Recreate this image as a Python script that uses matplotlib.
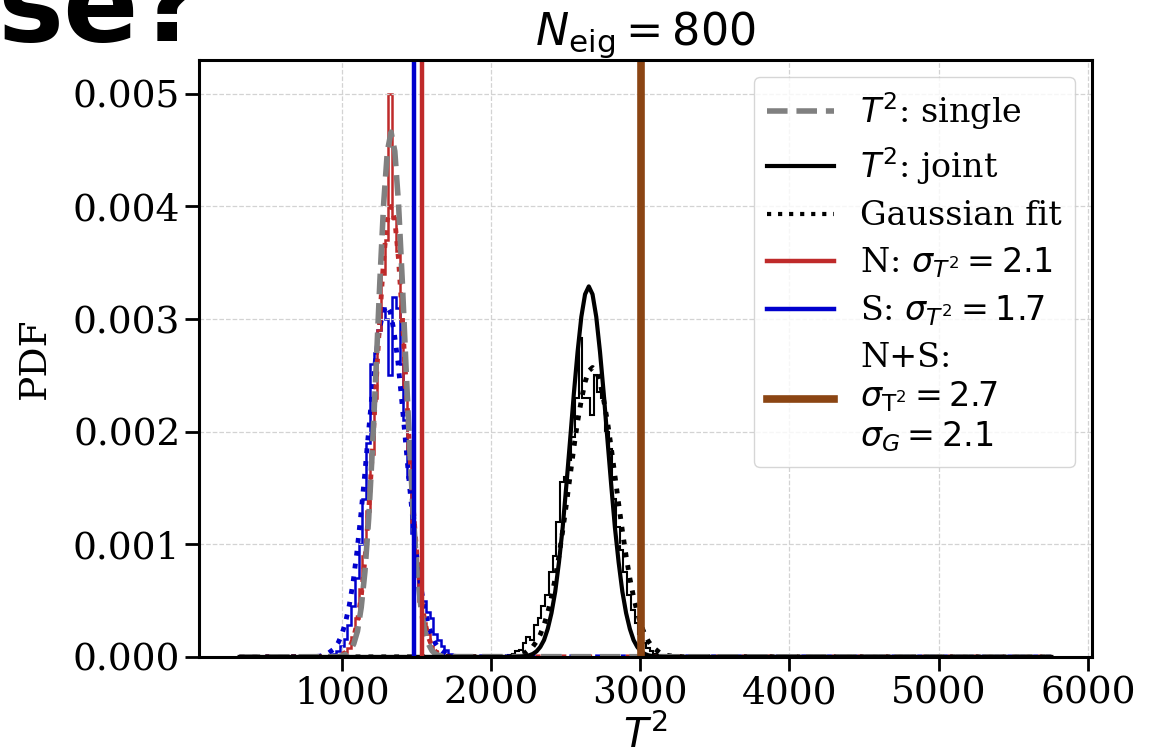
## T^2 distributions for N_eig = 800: single vs joint, with Gaussian fits
import numpy as np
import matplotlib
matplotlib.use("Agg")
import matplotlib.pyplot as plt
from matplotlib.lines import Line2D

plt.rcParams['font.family'] = ['DejaVu Serif']
plt.rcParams['mathtext.fontset'] = 'dejavusans'

# histograms (PDF per bin of width 25)
bin_width = 25
s_hist_start = 912.5
s_hist = [0.00002, 0.00003, 0.00005, 0.0001, 0.00016, 0.00028, 0.00045, 0.0007, 0.0010, 0.0014,
          0.0019, 0.0026, 0.0027, 0.0029, 0.0031, 0.0030, 0.0025, 0.0032, 0.0031, 0.0026,
          0.0021, 0.0016, 0.0011, 0.0008, 0.0006, 0.0005, 0.0004, 0.00035, 0.0002, 0.00015,
          0.0001, 0.00006, 0.00003, 0.00002, 0.00001]
n_hist_start = 987.5
n_hist = [0.00001, 0.00004, 0.00008, 0.00018, 0.00035, 0.0006, 0.0009, 0.0013, 0.0018, 0.0023,
          0.0029, 0.0034, 0.0037, 0.0050, 0.0039, 0.0036, 0.0030, 0.0024, 0.0018, 0.0012,
          0.0008, 0.0005, 0.0003, 0.0002, 0.0001, 0.00005, 0.00002]
joint_hist_start = 2087.5
joint_hist = [0.00001, 0.00002, 0.00003, 0.00005, 0.00006, 0.00012, 0.00018, 0.00015, 0.00028, 0.00035,
              0.00045, 0.00055, 0.00075, 0.0009, 0.0012, 0.00155, 0.0016, 0.00175, 0.00195, 0.0023,
              0.00283, 0.0023, 0.0023, 0.00215, 0.0025, 0.00235, 0.0023, 0.0020, 0.00185, 0.0014,
              0.00115, 0.00095, 0.00075, 0.00055, 0.00042, 0.0003, 0.0002, 0.00012, 0.00008, 0.00005,
              0.00003, 0.00002, 0.00002, 0.00001, 0.00001]

# Gaussian fits
s_fit_x = [315, 800, 850, 900, 950, 975, 1000, 1025, 1050, 1075, 1100, 1125, 1150, 1175, 1200, 1225,
           1250, 1275, 1300, 1325, 1350, 1375, 1400, 1425, 1450, 1475, 1500, 1525, 1550, 1575, 1600,
           1625, 1650, 1700, 1750, 1800, 5755]
s_fit_y = [0, 0.0000015, 0.0000066, 0.000024, 0.000074, 0.000125, 0.0002, 0.00031, 0.00046, 0.00066,
           0.00092, 0.00123, 0.00157, 0.00194, 0.0023, 0.00263, 0.00289, 0.00306, 0.00312, 0.00306,
           0.00289, 0.00263, 0.0023, 0.00194, 0.00157, 0.00123, 0.00092, 0.00066, 0.00046, 0.00031,
           0.0002, 0.000125, 0.000074, 0.000024, 0.0000066, 0.0000015, 0]
n_fit_x = [315, 930, 980, 1030, 1055, 1080, 1105, 1130, 1155, 1180, 1205, 1230, 1255, 1280, 1305, 1330,
           1355, 1380, 1405, 1430, 1455, 1480, 1505, 1530, 1555, 1580, 1605, 1630, 1680, 1730, 5755]
n_fit_y = [0, 0.0000014, 0.0000088, 0.000044, 0.000091, 0.000176, 0.00032, 0.00054, 0.00087, 0.0013,
           0.00183, 0.00243, 0.00302, 0.00353, 0.00388, 0.0040, 0.00388, 0.00353, 0.00302, 0.00243,
           0.00183, 0.0013, 0.00087, 0.00054, 0.00032, 0.000176, 0.000091, 0.000044, 0.0000088,
           0.0000014, 0]
joint_fit_x = [315, 2080, 2130, 2180, 2230, 2280, 2305, 2330, 2355, 2380, 2405, 2430, 2455, 2480, 2505,
               2530, 2555, 2580, 2605, 2630, 2655, 2680, 2705, 2730, 2755, 2780, 2805, 2830, 2855, 2880,
               2905, 2930, 2955, 2980, 3005, 3030, 3055, 3080, 3130, 3180, 3230, 3280, 5755]
joint_fit_y = [0, 0.0000014, 0.0000048, 0.000014, 0.000038, 0.000092, 0.000138, 0.0002, 0.000285,
               0.000395, 0.000532, 0.000699, 0.000896, 0.00112, 0.00136, 0.00161, 0.00186, 0.00209,
               0.00228, 0.00244, 0.00254, 0.00257, 0.00254, 0.00244, 0.00228, 0.00209, 0.00186, 0.00161,
               0.00136, 0.00112, 0.000896, 0.000699, 0.000532, 0.000395, 0.000285, 0.0002, 0.000138,
               0.000092, 0.000038, 0.000014, 0.0000048, 0.0000014, 0]

# theory curves: single and joint T^2
single_x = [315, 980, 1030, 1055, 1080, 1105, 1130, 1155, 1180, 1205, 1230, 1255, 1280, 1305, 1330,
            1355, 1380, 1405, 1430, 1455, 1480, 1505, 1530, 1555, 1580, 1605, 1630, 1680, 5755]
single_y = [0, 0.0000034, 0.000023, 0.000054, 0.000117, 0.00023, 0.00044, 0.00076, 0.00123, 0.00185,
            0.00258, 0.00334, 0.00402, 0.00449, 0.00466, 0.00449, 0.00402, 0.00334, 0.00258, 0.00185,
            0.00123, 0.00076, 0.00044, 0.00023, 0.000117, 0.000054, 0.000023, 0.0000034, 0]
joint_x = [315, 2155, 2205, 2255, 2280, 2305, 2330, 2355, 2380, 2405, 2430, 2455, 2480, 2505, 2530,
           2555, 2580, 2605, 2630, 2655, 2680, 2705, 2730, 2755, 2780, 2805, 2830, 2855, 2880, 2905,
           2930, 2955, 2980, 3005, 3030, 3055, 3105, 3155, 5755]
joint_y = [0, 0.0000007, 0.0000033, 0.000014, 0.000027, 0.00005, 0.000089, 0.00015, 0.00025, 0.00039,
           0.00058, 0.00084, 0.00115, 0.00153, 0.00193, 0.00234, 0.00271, 0.00302, 0.00322, 0.00329,
           0.00322, 0.00302, 0.00271, 0.00234, 0.00193, 0.00153, 0.00115, 0.00084, 0.00058, 0.00039,
           0.00025, 0.00015, 0.000089, 0.00005, 0.000027, 0.000014, 0.0000033, 0.0000007, 0]

# observed T^2 values
t2_obs_N = 1535
t2_obs_S = 1482
t2_obs_NS = 3007

red = '#bf2a2a'
blue = '#0000cd'
brown = '#8b4513'


def edges(start, values):
    return start + bin_width * np.arange(len(values) + 1)


fig = plt.figure(figsize=(11.66, 7.56), dpi=100)
ax = fig.add_axes([0.1707, 0.131, 0.7658, 0.7896])

ax.stairs(s_hist, edges(s_hist_start, s_hist), color=blue, lw=1.8)
ax.stairs(n_hist, edges(n_hist_start, n_hist), color=red, lw=1.8)
ax.stairs(joint_hist, edges(joint_hist_start, joint_hist), color='black', lw=1.5)

ax.plot(s_fit_x, s_fit_y, ':', color=blue, lw=3.5)
ax.plot(n_fit_x, n_fit_y, ':', color=red, lw=3.5)
ax.plot(joint_fit_x, joint_fit_y, ':', color='black', lw=3.5)

l_single, = ax.plot(single_x, single_y, '--', color='gray', lw=4)
l_joint, = ax.plot(joint_x, joint_y, '-', color='black', lw=3)

l_n = ax.axvline(t2_obs_N, color=red, lw=3.2)
l_s = ax.axvline(t2_obs_S, color=blue, lw=3.2)
l_ns = ax.axvline(t2_obs_NS, color=brown, lw=5.5)

fit_proxy = Line2D([], [], ls=':', color='black', lw=3)
ax.legend([l_single, l_joint, fit_proxy, l_n, l_s, l_ns],
          ['$T^2$: single', '$T^2$: joint', 'Gaussian fit',
           r'N: $\sigma_{T^2} = 2.1$', r'S: $\sigma_{T^2} = 1.7$',
           'N+S:\n' + r'$\sigma_{\rm T^2} = 2.7$' + '\n' + r'$\sigma_G = 2.1$'],
          loc='upper right', fontsize=24, labelspacing=0.4)

ax.set_xlim(43, 6027)
ax.set_ylim(0, 0.0053)
ax.grid(True, ls='--', color='lightgray', lw=0.9)
ax.tick_params(labelsize=27, length=10, width=2)
for sp in ax.spines.values():
    sp.set_linewidth(2.2)

ax.set_xlabel('$T^2$', fontsize=29, labelpad=2)
ax.set_ylabel('PDF', fontsize=27, labelpad=14)
ax.set_title(r'$N_{\rm eig} = 800$', fontsize=32, pad=4)

# cropped slide title at the top-left corner
fig.text(203 / 1166, 1 - 41 / 756, 'se?', fontsize=80, fontweight='bold',
         family='DejaVu Sans', ha='right', va='baseline')

fig.savefig('out.png', dpi=100)
